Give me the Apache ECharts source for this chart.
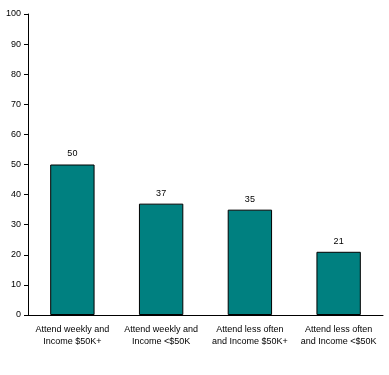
<!DOCTYPE html>
<html>
<head>
<meta charset="utf-8">
<script src="https://cdn.jsdelivr.net/npm/echarts@6/dist/echarts.min.js"></script>
<style>
  html, body { margin: 0; padding: 0; background: #fff; }
  #chart { width: 389px; height: 375px; }
</style>
</head>
<body>
<div id="chart"></div>
<script>
var categories = ['Attend weekly and\nIncome $50K+', 'Attend weekly and\nIncome <$50K', 'Attend less often\nand Income $50K+', 'Attend less often\nand Income <$50K'];
var values = [50, 37, 35, 21];

var chart = echarts.init(document.getElementById('chart'));
var font = '"Liberation Sans", Arial, sans-serif';

chart.setOption({
    animation: false,
    grid: { left: 28, right: 6, top: 14, bottom: 60 },
    xAxis: {
        type: 'category',
        data: categories,
        axisLine: { lineStyle: { color: '#000', width: 1 } },
        axisTick: { show: false },
        axisLabel: { color: '#000', fontSize: 9, fontFamily: font, lineHeight: 12, margin: 9, interval: 0 }
    },
    yAxis: {
        type: 'value',
        min: 0,
        max: 100,
        interval: 10,
        axisLine: { show: true, lineStyle: { color: '#000', width: 1 } },
        axisTick: { show: true, length: 4, lineStyle: { color: '#000' } },
        axisLabel: { color: '#000', fontSize: 9, fontFamily: font, margin: 7 },
        splitLine: { show: false }
    },
    series: [{
        type: 'bar',
        data: values,
        barWidth: '50%',
        itemStyle: { color: '#008080', borderColor: '#000', borderWidth: 1 },
        label: { show: true, position: 'top', distance: 6, color: '#000', fontSize: 9, fontFamily: font }
    }]
});
</script>
</body>
</html>
